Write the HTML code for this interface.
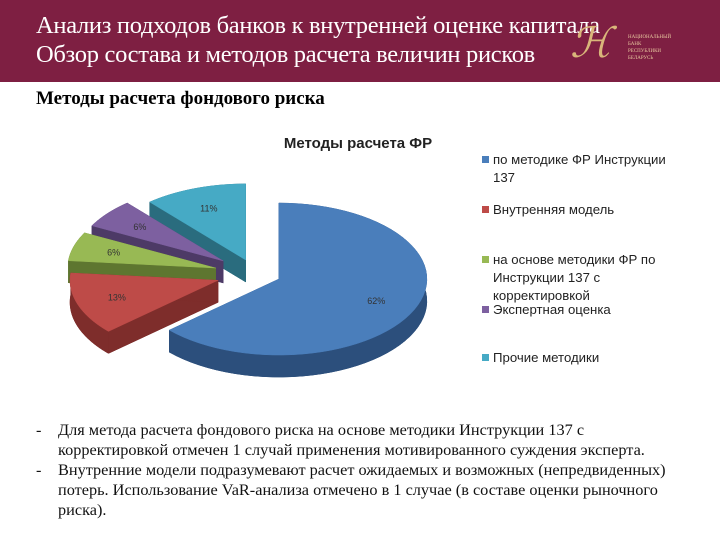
<!DOCTYPE html>
<html><head><meta charset="utf-8"><style>
body{margin:0;width:720px;height:540px;overflow:hidden;background:#fff;font-family:"Liberation Serif","Noto Serif CJK SC",serif;position:relative}
.hdr{position:absolute;left:0;top:0;width:720px;height:82px;background:#7e1f42}
.ht{position:absolute;left:36px;color:#fff;font-size:24.5px;white-space:nowrap;letter-spacing:-0.3px}
.sub{position:absolute;left:36px;top:88px;font-size:19px;font-weight:bold}
.leg{position:absolute;left:493px;font-family:"Liberation Sans",sans-serif;font-size:13.2px;line-height:18px;color:#222;white-space:nowrap}
.sw{position:absolute;left:-11px;top:5px;width:7px;height:7px}
.b{position:absolute;font-size:16.3px;line-height:20px;color:#111;white-space:nowrap}
</style></head><body>
<div class="hdr">
<div class="ht" style="top:12px">Анализ подходов банков к внутренней оценке капитала</div>
<div class="ht" style="top:41px">Обзор состава и методов расчета величин рисков</div>
<div style="position:absolute;left:570px;top:18px;color:#d9b57a;font-size:42px;font-style:italic">ℋ</div>
<div style="position:absolute;left:628px;top:34px;color:#e9c9a0;font-size:5px;line-height:7px">НАЦИОНАЛЬНЫЙ<br>БАНК<br>РЕСПУБЛИКИ<br>БЕЛАРУСЬ</div>
</div>
<div class="sub">Методы расчета фондового риска</div>
<svg id="pie" width="720" height="540" style="position:absolute;left:0;top:0">
<text x="358" y="148" text-anchor="middle" font-family="Liberation Sans" font-weight="bold" font-size="15" fill="#222">Методы расчета ФР</text>
</svg>
<div class="leg" style="top:151px"><span class="sw" style="background:#4a7ebb"></span>по методике ФР Инструкции<br>137</div>
<div class="leg" style="top:201px"><span class="sw" style="background:#be4b48"></span>Внутренняя модель</div>
<div class="leg" style="top:251px"><span class="sw" style="background:#98b954"></span>на основе методики ФР по<br>Инструкции 137 с<br>корректировкой</div>
<div class="leg" style="top:301px"><span class="sw" style="background:#7d60a0"></span>Экспертная оценка</div>
<div class="leg" style="top:349px"><span class="sw" style="background:#46aac5"></span>Прочие методики</div>
<div class="b" style="left:36px;top:420px">-</div>
<div class="b" style="left:58px;top:420px">Для метода расчета фондового риска на основе методики Инструкции 137 с<br>корректировкой отмечен 1 случай применения мотивированного суждения эксперта.</div>
<div class="b" style="left:36px;top:460px">-</div>
<div class="b" style="left:58px;top:460px">Внутренние модели подразумевают расчет ожидаемых и возможных (непредвиденных)<br>потерь. Использование VaR-анализа отмечено в 1 случае (в составе оценки рыночного<br>риска).</div>
<script>
const categories=["Instr137","Internal","Adjusted","Expert","Other"];
const values=[62,13,6,6,11];
const labels=["62%","13%","6%","6%","11%"];
const colors=["#4a7ebb","#be4b48","#98b954","#7d60a0","#46aac5"];
const darks=["#2c4f7c","#7e2d2b","#5e7630","#4d3a66","#2a6c7e"];
const explode=[25,40,42,42,30];
const svg=document.getElementById('pie');
const cx=256,cy=274,rx=148,ry=76,dep=22;
const NS="http://www.w3.org/2000/svg";
const total=values.reduce((a,b)=>a+b,0);
function pt(ox,oy,t,r,d){return [ox+rx*r*Math.sin(t),oy-ry*r*Math.cos(t)+(d||0)];}
function poly(pts,fill,name){const p=document.createElementNS(NS,'polygon');p.setAttribute('points',pts.map(q=>q.join(',')).join(' '));p.setAttribute('fill',fill);p.setAttribute('stroke',fill);p.setAttribute('stroke-width','0.5');


return p;}
let acc=0;const slices=[];
values.forEach((v,i)=>{const a0=acc/total*2*Math.PI;acc+=v;const a1=acc/total*2*Math.PI;slices.push({i,a0,a1});});
const order=[4,3,2,1,0];
order.forEach(i=>{const s=slices[i];const mid=(s.a0+s.a1)/2;
const ox=cx+explode[i]*Math.sin(mid),oy=cy-explode[i]*Math.cos(mid)*0.5;
const arc=[],arcB=[];const n=60;
for(let k=0;k<=n;k++){const t=s.a0+(s.a1-s.a0)*k/n;arc.push(pt(ox,oy,t,1));arcB.push(pt(ox,oy,t,1,dep));}
const g=document.createElementNS(NS,'g');


g.appendChild(poly([[ox,oy+dep],...arcB],darks[i],'slice-bottom'));
g.appendChild(poly([[ox,oy],arc[0],arcB[0],[ox,oy+dep]],darks[i],'slice-side'));
g.appendChild(poly([[ox,oy],arc[n],arcB[n],[ox,oy+dep]],darks[i],'slice-side'));
g.appendChild(poly([...arc,...arcB.slice().reverse()],darks[i],'slice-wall'));
g.appendChild(poly([[ox,oy],...arc],colors[i],'slice-top'));
const lp=pt(ox,oy,mid,0.72);
const t=document.createElementNS(NS,'text');t.setAttribute('x',lp[0]);t.setAttribute('y',lp[1]+3);t.setAttribute('text-anchor','middle');t.setAttribute('font-family','Liberation Sans');t.setAttribute('font-size','9');t.setAttribute('fill','#333');t.textContent=labels[i];


g.appendChild(t);svg.appendChild(g);});
</script>
</body></html>
